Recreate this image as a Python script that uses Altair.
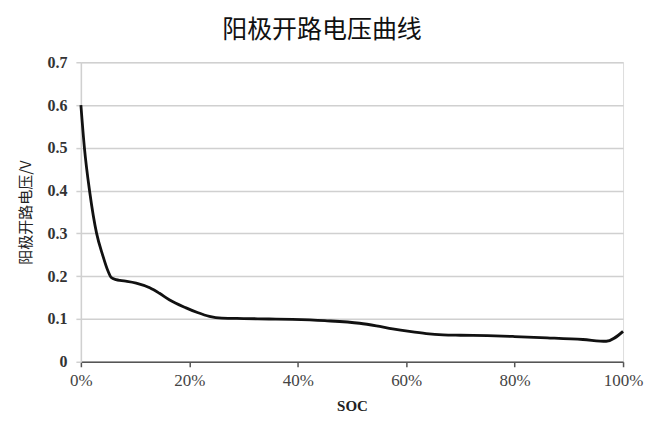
import altair as alt
import pandas as pd

soc = [0, 0.65, 1.65, 2.9, 4.0, 5.0, 5.6, 6.5, 7.2, 8.5, 10.2, 12.7, 14.5, 16.3,
       19.4, 21.5, 23.7, 26, 30, 34.7, 39, 45, 51.4, 54.5, 57.5, 60.6, 63.7,
       66.8, 70, 75, 80, 86, 92.6, 96.9, 100]
voltage = [0.6, 0.5, 0.395, 0.3, 0.25, 0.212, 0.197, 0.192, 0.19, 0.188, 0.184,
           0.173, 0.16, 0.145, 0.126, 0.115, 0.106, 0.102, 0.101, 0.1, 0.099,
           0.096, 0.09, 0.084, 0.077, 0.071, 0.066, 0.063, 0.062, 0.061, 0.059,
           0.056, 0.052, 0.048, 0.071]

df = pd.DataFrame({"soc": [s / 100 for s in soc], "v": voltage})

serif = "Liberation Serif"
cjk = "Noto Sans CJK SC"

chart = alt.Chart(df).mark_line(
    color="#111111", strokeWidth=2.8, interpolate="monotone"
).encode(
    x=alt.X("soc:Q", scale=alt.Scale(domain=[0, 1], nice=False),
            axis=alt.Axis(title="SOC", format="%", values=[0, 0.2, 0.4, 0.6, 0.8, 1.0],
                          grid=False, domainColor="#555555", domainWidth=1.5,
                          tickColor="#555555", tickWidth=1.5, tickSize=5,
                          labelFont=serif, labelFontSize=17, labelColor="#444444",
                          labelPadding=6, labelFlush=False,
                          titleFont=serif, titleFontSize=15, titleFontWeight="bold",
                          titleColor="#222222", titlePadding=10)),
    y=alt.Y("v:Q", scale=alt.Scale(domain=[0, 0.7], nice=False),
            axis=alt.Axis(title="阳极开路电压/V", values=[0, 0.1, 0.2, 0.3, 0.4, 0.5, 0.6, 0.7],
                          labelExpr="datum.value == 0 ? '0' : format(datum.value, '.1f')",
                          grid=True, gridColor="#d0d0d0", gridWidth=1.5,
                          domainColor="#d0d0d0", domainWidth=1.5,
                          tickColor="#d0d0d0", tickWidth=1.5, tickSize=5,
                          labelFont=serif, labelFontSize=16, labelFontWeight="bold",
                          labelColor="#333333", labelPadding=9,
                          titleFont=cjk, titleFontSize=15, titleFontWeight="normal",
                          titleColor="#222222", titlePadding=13)),
).properties(
    width=543, height=300,
    title=alt.TitleParams("阳极开路电压曲线", font=cjk, fontSize=25,
                          fontWeight="normal", color="#111111", offset=11, dx=-30),
    autosize=alt.AutoSizeParams(type="none"),
    padding={"left": 73, "top": 54, "right": 30, "bottom": 58},
).configure_view(stroke=None).configure(background="white")

chart.save("out.html", embed_options={"renderer": "svg", "actions": False})
